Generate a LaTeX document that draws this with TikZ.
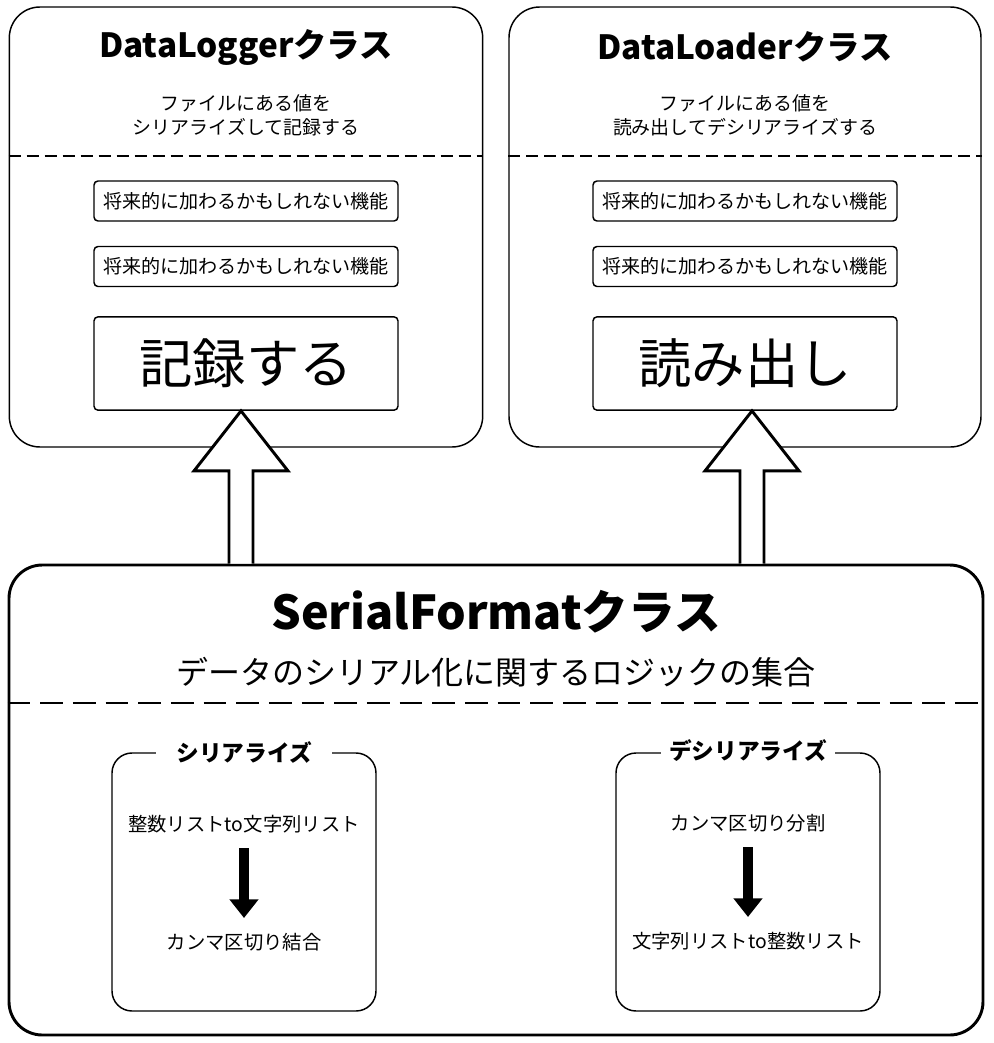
\documentclass[tikz,border=0pt]{standalone}
\usepackage{fontspec}
\setmainfont{Noto Sans CJK JP}
\usetikzlibrary{calc,arrows.meta}

\tikzset{
    classbox/.style={draw, line width=1.1pt, rounded corners=23pt, minimum width=355pt, minimum height=330pt},
    featbox/.style={draw, line width=1.1pt, rounded corners=3pt, minimum width=228pt, minimum height=30pt, font=\fontsize{14.3}{17}\selectfont},
    mainbox/.style={draw, line width=1.1pt, rounded corners=3pt, minimum width=228pt, minimum height=70pt, font=\fontsize{40}{48}\selectfont},
    sepline/.style={line width=1.1pt, dash pattern=on 9pt off 4.5pt},
    fatarrow/.style={draw, fill=white, line width=2.2pt, line join=miter},
}

\begin{document}
\begin{tikzpicture}[x=0.75pt, y=-0.75pt]
    \useasboundingbox (0,0) rectangle (994,1043);

    % DataLogger class (left)
    \node[classbox] (logbox) at (246,227) {};
    \node[font=\fontsize{25}{30}\selectfont\bfseries] (logtitle) at (246,47) {DataLoggerクラス};
    \node[align=center, font=\fontsize{14.2}{18}\selectfont] (logdesc) at (246,115) {ファイルにある値を\\シリアライズして記録する};
    \draw[sepline] (logbox.west |- 0,156) -- (logbox.east |- 0,156);
    \node[featbox] (logfeat1) at (246,201) {将来的に加わるかもしれない機能};
    \node[featbox] (logfeat2) at (246,266.5) {将来的に加わるかもしれない機能};
    \node[mainbox] (logmain) at (246,363.5) {記録する};

    % DataLoader class (right)
    \node[classbox, minimum width=354pt] (loadbox) at (745,227) {};
    \node[font=\fontsize{25}{30}\selectfont\bfseries] (loadtitle) at (745,47) {DataLoaderクラス};
    \node[align=center, font=\fontsize{14.2}{18}\selectfont] (loaddesc) at (745,115) {ファイルにある値を\\読み出してデシリアライズする};
    \draw[sepline] (loadbox.west |- 0,156) -- (loadbox.east |- 0,156);
    \node[featbox] (loadfeat1) at (745,201) {将来的に加わるかもしれない機能};
    \node[featbox] (loadfeat2) at (745,266.5) {将来的に加わるかもしれない機能};
    \node[mainbox] (loadmain) at (745,363.5) {読み出し};

    % SerialFormat class (bottom)
    \node[draw, line width=2.2pt, rounded corners=25pt, minimum width=730.5pt, minimum height=352.5pt] (sfbox) at (496,800) {};
    \node[font=\fontsize{35}{42}\selectfont\bfseries] (sftitle) at (496,612) {SerialFormatクラス};
    \node[font=\fontsize{24}{29}\selectfont] (sfdesc) at (496,672) {データのシリアル化に関するロジックの集合};
    \draw[line width=2.2pt, dash pattern=on 17pt off 7.5pt] (sfbox.west |- 0,703) -- (sfbox.east |- 0,703);

    % serialize / deserialize groups
    \node[draw, line width=1.1pt, rounded corners=15pt, minimum width=198pt, minimum height=193.5pt] (serbox) at (244,882) {};
    \node[fill=white, inner xsep=15pt, font=\fontsize{17}{20}\selectfont\bfseries] (sertitle) at (244,752) {シリアライズ};
    \node[font=\fontsize{14.5}{17}\selectfont] (serfrom) at (244,824) {整数リストto文字列リスト};
    \node[font=\fontsize{14.5}{17}\selectfont] (serto) at (244,942) {カンマ区切り結合};
    \draw[line width=7.5pt, -{Triangle[width=21pt,length=14pt]}] ($(serfrom)+(0,24)$) -- ($(serto)+(0,-24)$);

    \node[draw, line width=1.1pt, rounded corners=15pt, minimum width=198pt, minimum height=193.5pt] (desbox) at (748,882) {};
    \node[fill=white, inner xsep=6pt, font=\fontsize{17}{20}\selectfont\bfseries] (destitle) at (748,751) {デシリアライズ};
    \node[font=\fontsize{14.5}{17}\selectfont] (desfrom) at (748,823) {カンマ区切り分割};
    \node[font=\fontsize{14.5}{17}\selectfont] (desto) at (748,941) {文字列リストto整数リスト};
    \draw[line width=7.5pt, -{Triangle[width=21pt,length=14pt]}] ($(desfrom)+(0,24)$) -- ($(desto)+(0,-24)$);

    % fat arrows from SerialFormat up to the two classes
    \coordinate (logtip) at ($(logmain.south)+(-5,0)$);
    \coordinate (logbase) at (logtip |- sfbox.north);
    \draw[fatarrow] ($(logbase)+(-12,0)$) -- ($(logtip)+(-12,60)$) -- ($(logtip)+(-47,60)$) -- (logtip)
        -- ($(logtip)+(47,60)$) -- ($(logtip)+(12,60)$) -- ($(logbase)+(12,0)$);

    \coordinate (loadtip) at ($(loadmain.south)+(7,0)$);
    \coordinate (loadbase) at (loadtip |- sfbox.north);
    \draw[fatarrow] ($(loadbase)+(-12,0)$) -- ($(loadtip)+(-12,60)$) -- ($(loadtip)+(-47,60)$) -- (loadtip)
        -- ($(loadtip)+(47,60)$) -- ($(loadtip)+(12,60)$) -- ($(loadbase)+(12,0)$);
\end{tikzpicture}
\end{document}
